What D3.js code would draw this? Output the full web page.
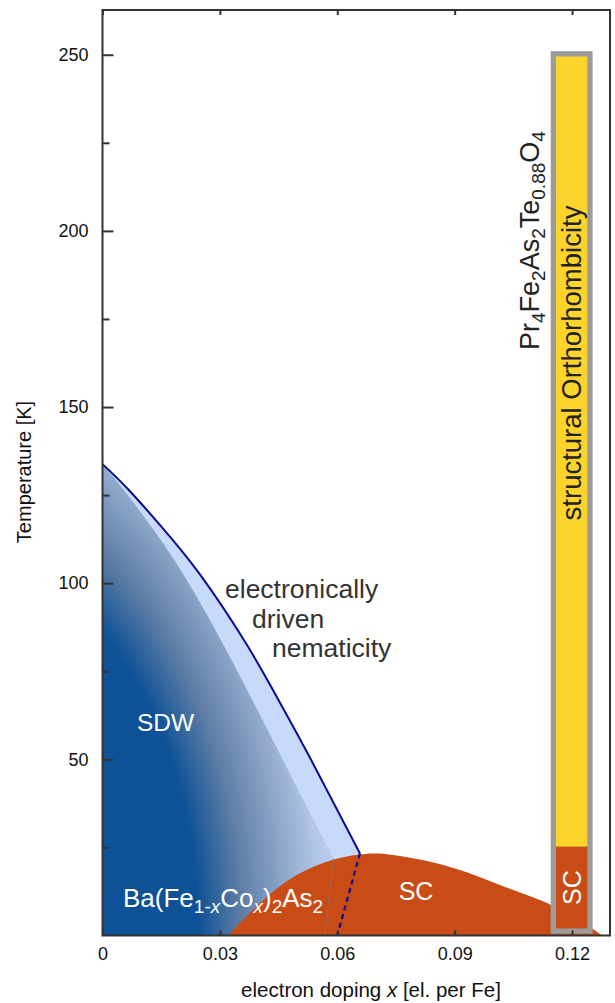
<!DOCTYPE html>
<html>
<head>
<meta charset="utf-8">
<script src="https://cdn.jsdelivr.net/npm/d3@7"></script>
<style>
  body { margin: 0; background: #fff; }
  text { font-family: "Liberation Sans", Arial, sans-serif; }
</style>
</head>
<body>
<script>
// phase diagram values
var xTicks = [0, 0.03, 0.06, 0.09, 0.12];
var xTickLabels = ["0", "0.03", "0.06", "0.09", "0.12"];
var yTicks = [50, 100, 150, 200, 250];
var yMinorTicks = [25, 75, 125, 175, 225];

// nematic / structural transition line (outer)
var nemX = [0, 0.0066, 0.0151, 0.0249, 0.0369, 0.0454, 0.0530, 0.0658];
var nemT = [133.8, 126.6, 116.0, 102.5, 82.5, 66.0, 50.5, 23.3];
// SDW boundary (inner)
var sdwX = [0, 0.0049, 0.0125, 0.0215, 0.0326, 0.0458, 0.0590];
var sdwT = [133.8, 127.2, 116.0, 101.0, 79.0, 50.5, 21.9];
// continuation of the lines below Tc
var sdwEndX = 0.0568;
var nemEndX = 0.0600;
// SC dome
var domeX = [0.0321, 0.0407, 0.0492, 0.0590, 0.0662, 0.0700, 0.0760, 0.0845, 0.0931, 0.1016, 0.1101, 0.1144, 0.1254, 0.1276];
var domeT = [0, 10, 17.6, 21.9, 23.1, 23.5, 22.6, 20.9, 18.1, 14.3, 10.8, 9.1, 2, 0];
// Pr4Fe2As2Te0.88O4 bar
var barX = [0.1159, 0.1239];
var barTs = 249.5;
var barTc = 25.2;
var barBottom = 2;

var W = 615, H = 1003;
var mLeft = 102.5, mRight = 610, mTop = 10, mBottom = 935.5;

var x = d3.scaleLinear().domain([0, 0.1297]).range([mLeft, mRight]);
var y = d3.scaleLinear().domain([0, 262.7]).range([mBottom, mTop]);

var svg = d3.select("body").append("svg")
    .attr("width", W)
    .attr("height", H);

// elliptical shading of the SDW region, centred left of the origin
var gcx = x(-0.045), gcy = y(0);
var defs = svg.append("defs");
var grad = defs.append("radialGradient")
    .attr("id", "sdwGrad")
    .attr("gradientUnits", "userSpaceOnUse")
    .attr("cx", gcx)
    .attr("cy", gcy)
    .attr("r", 424)
    .attr("gradientTransform", "translate(" + gcx + "," + gcy + ") scale(1,1.465) translate(" + (-gcx) + "," + (-gcy) + ")");
[[0, "#0d5196"], [0.64, "#0d5196"], [0.745, "#5f7ea6"], [0.93, "#b3c7e6"], [1, "#bfd1ee"]].forEach(function (s) {
    grad.append("stop").attr("offset", s[0]).attr("stop-color", s[1]);
});

var nemPts = nemX.map(function (d, i) { return [x(d), y(nemT[i])]; });
var sdwPts = sdwX.map(function (d, i) { return [x(d), y(sdwT[i])]; });
var curveLine = d3.line().curve(d3.curveNatural);

var plot = svg.append("g");

// light blue nematic area
plot.append("path")
    .attr("d", curveLine(nemPts) + "L" + x(nemEndX) + "," + y(0) + "L" + x(0) + "," + y(0) + "Z")
    .attr("fill", "#c8daf9");

// SDW area
plot.append("path")
    .attr("d", curveLine(sdwPts) + "L" + x(sdwEndX) + "," + y(0) + "L" + x(0) + "," + y(0) + "Z")
    .attr("fill", "url(#sdwGrad)");

// SC dome
var domeArea = d3.area()
    .x(function (d) { return x(d); })
    .y0(y(0))
    .y1(function (d, i) { return y(domeT[i]); })
    .curve(d3.curveBasis);
plot.append("path")
    .attr("d", domeArea(domeX))
    .attr("fill", "#c94c16");

// thin SDW continuation under dome
plot.append("line")
    .attr("x1", x(sdwX[sdwX.length - 1])).attr("y1", y(sdwT[sdwT.length - 1]))
    .attr("x2", x(sdwEndX)).attr("y2", y(0))
    .attr("stroke", "#7a7a8a").attr("stroke-width", 1)
    .attr("stroke-dasharray", "1.5,1");

// dashed nematic continuation
plot.append("line")
    .attr("x1", x(nemX[nemX.length - 1])).attr("y1", y(nemT[nemT.length - 1]))
    .attr("x2", x(nemEndX)).attr("y2", y(0))
    .attr("stroke", "#0a0a94").attr("stroke-width", 2.2)
    .attr("stroke-dasharray", "5,4");

// solid nematic line
plot.append("path")
    .attr("d", curveLine(nemPts))
    .attr("fill", "none")
    .attr("stroke", "#0a0a94")
    .attr("stroke-width", 2);

// bar
var bx0 = x(barX[0]), bx1 = x(barX[1]);
plot.append("rect")
    .attr("x", bx0 - 5.3).attr("y", y(barTs) - 5.3)
    .attr("width", bx1 - bx0 + 10.6).attr("height", y(barBottom) - y(barTs) + 10.6)
    .attr("fill", "#9c9c9c");
plot.append("rect")
    .attr("x", bx0).attr("y", y(barTs))
    .attr("width", bx1 - bx0).attr("height", y(barTc) - y(barTs))
    .attr("fill", "#fdd42b");
plot.append("rect")
    .attr("x", bx0).attr("y", y(barTc))
    .attr("width", bx1 - bx0).attr("height", y(barBottom) - y(barTc))
    .attr("fill", "#c94c16");

// axes
var axisColor = "#333";
svg.append("g")
    .attr("transform", "translate(" + mLeft + ",0)")
    .call(d3.axisLeft(y).tickValues(yTicks).tickSizeInner(-11).tickSizeOuter(0).tickPadding(14));
svg.append("g")
    .attr("transform", "translate(" + mLeft + ",0)")
    .call(d3.axisLeft(y).tickValues(yMinorTicks).tickSizeInner(-7).tickSizeOuter(0).tickFormat(""));
svg.append("g")
    .attr("transform", "translate(0," + mBottom + ")")
    .call(d3.axisBottom(x).tickValues(xTicks).tickSizeInner(-5).tickSizeOuter(0).tickPadding(12)
        .tickFormat(function (d, i) { return xTickLabels[i]; }));
svg.append("g")
    .attr("transform", "translate(0," + mTop + ")")
    .call(d3.axisTop(x).tickValues(xTicks).tickSizeInner(-5).tickSizeOuter(0).tickFormat(""));

svg.selectAll(".domain").remove();
svg.selectAll(".tick line").attr("stroke", axisColor).attr("stroke-width", 2);
svg.selectAll(".tick text")
    .attr("fill", "#111")
    .attr("font-family", "'Liberation Sans', Arial, sans-serif")
    .attr("font-size", 18);

// frame
svg.append("rect")
    .attr("x", mLeft).attr("y", mTop)
    .attr("width", mRight - mLeft).attr("height", mBottom - mTop)
    .attr("fill", "none")
    .attr("stroke", axisColor)
    .attr("stroke-width", 2);

// axis titles
svg.append("text")
    .attr("transform", "translate(31,472) rotate(-90)")
    .attr("text-anchor", "middle")
    .attr("font-size", 20)
    .attr("fill", "#111")
    .text("Temperature [K]");

var xt = svg.append("text")
    .attr("x", 371).attr("y", 997)
    .attr("text-anchor", "middle")
    .attr("font-size", 20.5)
    .attr("fill", "#111");
xt.append("tspan").text("electron doping ");
xt.append("tspan").attr("font-style", "italic").text("x");
xt.append("tspan").text(" [el. per Fe]");

// region labels
svg.append("text")
    .attr("x", 137).attr("y", 731)
    .attr("font-size", 24.5)
    .attr("fill", "#fff")
    .text("SDW");

svg.append("text")
    .attr("x", 416).attr("y", 900)
    .attr("text-anchor", "middle")
    .attr("font-size", 25)
    .attr("fill", "#fff")
    .text("SC");

var ba = svg.append("text")
    .attr("x", 123).attr("y", 907)
    .attr("font-size", 26)
    .attr("fill", "#fff");
ba.append("tspan").text("Ba(Fe");
ba.append("tspan").attr("font-size", 19).attr("dy", 6).text("1-");
ba.append("tspan").attr("font-size", 19).attr("font-style", "italic").text("x");
ba.append("tspan").attr("dy", -6).text("Co");
ba.append("tspan").attr("font-size", 19).attr("font-style", "italic").attr("dy", 6).text("x");
ba.append("tspan").attr("dy", -6).text(")");
ba.append("tspan").attr("font-size", 19).attr("dy", 6).text("2");
ba.append("tspan").attr("dy", -6).text("As");
ba.append("tspan").attr("font-size", 19).attr("dy", 6).text("2");

var nemLabel = [["electronically", 225, 598], ["driven", 252, 628], ["nematicity", 272, 657]];
nemLabel.forEach(function (d) {
    svg.append("text")
        .attr("x", d[1]).attr("y", d[2])
        .attr("font-size", 26.5)
        .attr("fill", "#333")
        .text(d[0]);
});

// rotated labels at the bar
var pr = svg.append("text")
    .attr("transform", "translate(539,350) rotate(-90)")
    .attr("font-size", 27)
    .attr("fill", "#222");
var prParts = [["Pr", 0], ["4", 1], ["Fe", 0], ["2", 1], ["As", 0], ["2", 1], ["Te", 0], ["0.88", 1], ["O", 0], ["4", 1]];
var prev = 0;
prParts.forEach(function (p) {
    var shift = p[1] ? 6 : 0;
    pr.append("tspan")
        .attr("font-size", p[1] ? 19 : 27)
        .attr("dy", shift - prev)
        .text(p[0]);
    prev = shift;
});

svg.append("text")
    .attr("transform", "translate(" + (((bx0 + bx1) / 2) + 9.5) + ",363) rotate(-90)")
    .attr("text-anchor", "middle")
    .attr("font-size", 27.5)
    .attr("fill", "#222")
    .text("structural Orthorhombicity");

svg.append("text")
    .attr("transform", "translate(" + (((bx0 + bx1) / 2) + 9) + "," + ((y(barTc) + y(barBottom)) / 2) + ") rotate(-90)")
    .attr("text-anchor", "middle")
    .attr("font-size", 25)
    .attr("fill", "#fff")
    .text("SC");
</script>
</body>
</html>
